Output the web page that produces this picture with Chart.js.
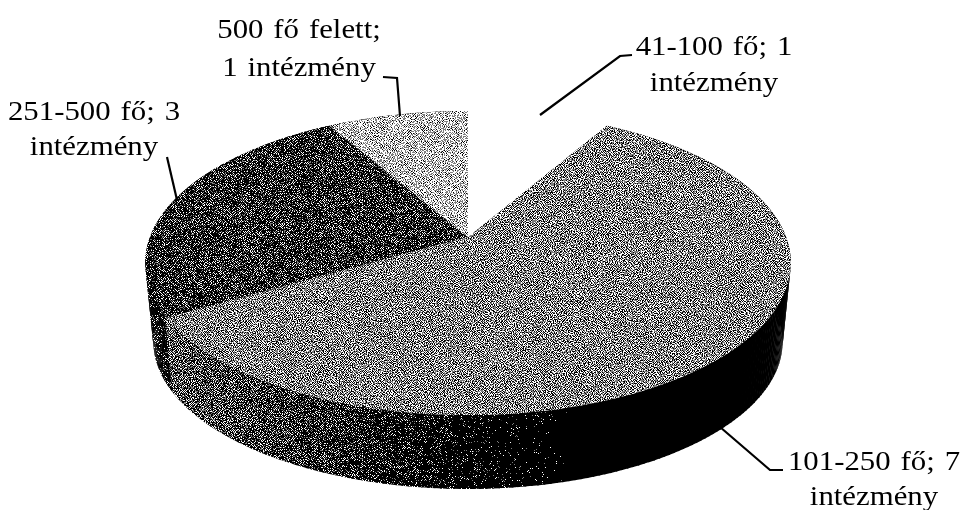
<!DOCTYPE html>
<html>
<head>
<meta charset="utf-8">
<style>
  html, body { margin: 0; padding: 0; background: #fff; }
  #wrap { width: 962px; height: 510px; }
</style>
<script src="https://cdn.jsdelivr.net/npm/chart.js@4"></script>
</head>
<body>
<div id="wrap"><canvas id="pie" width="962" height="510"></canvas></div>
<script>
// Chart data
const categories = ["41-100 fő", "101-250 fő", "251-500 fő", "500 fő felett"];
const counts = [1, 7, 3, 1];
const labelFirstLines = ["41-100 fő; 1", "101-250 fő; 7", "251-500 fő; 3", "500 fő felett;"];
const labelSecondLines = ["intézmény", "intézmény", "intézmény", "1 intézmény"];

// Darkness of each top face, 0 = white
const faceDarkness = [0, 0.48, 0.78, 0.28];

// Where the labels and their leader lines sit
const labelX = [714, 874, 94, 299];
const labelY = [[55, 91], [470, 505], [120, 155], [38, 76]];
const leaders = [
  [[632, 55], [620, 56], [540, 115]],
  [[783, 470], [770, 470], [720, 427]],
  [[167, 157], [177, 200]],
  [[383, 77], [397, 78], [400, 116]],
];

// Perspective of the pie: top plane and bottom plane
const topPlane = { dy: 0, a: 318, b: 147.6 };
const bottomPlane = { dy: 79.5, a: 310, b: 143 };
const tilt = 0.171;

// Darkness of the rim going clockwise from 12 o'clock (degrees)
const rimShade = [[30, 1], [163, 1], [176, 0.96], [190, 0.87], [205, 0.77], [222, 0.69], [240, 0.62], [241, 0.88], [300, 0.92]];

// Scan-like grain, same every run
function makeNoise(size) {
  let seed = 12345;
  const next = () => {
    seed = (seed + 0x6d2b79f5) | 0;
    let t = Math.imul(seed ^ (seed >>> 15), 1 | seed);
    t = (t + Math.imul(t ^ (t >>> 7), 61 | t)) ^ t;
    return ((t ^ (t >>> 14)) >>> 0) / 4294967296;
  };
  const raw = new Float32Array(size * size);
  for (let i = 0; i < raw.length; i++) raw[i] = next();
  const mixed = [];
  for (let y = 0; y < size; y++) {
    for (let x = 0; x < size; x++) {
      const at = (dx, dy) => raw[((y + dy + size) % size) * size + ((x + dx + size) % size)];
      // high-pass, so that it reads as a smooth grey from a distance
      const v = at(0, 0) - 0.25 * (at(1, 0) + at(-1, 0) + at(0, 1) + at(0, -1));
      mixed.push({ i: y * size + x, v });
    }
  }
  mixed.sort((p, q) => p.v - q.v);
  const rank = new Float32Array(size * size);
  mixed.forEach((m, r) => (rank[m.i] = r / mixed.length));
  return rank;
}

const noiseSize = 256;
const noise = makeNoise(noiseSize);
const patterns = new Map();

function grain(ctx, darkness) {
  const key = Math.round(darkness * 100);
  if (patterns.has(key)) return patterns.get(key);
  const c = document.createElement("canvas");
  c.width = c.height = noiseSize;
  const g = c.getContext("2d");
  const img = g.createImageData(noiseSize, noiseSize);
  const l = key / 100;
  // the grey band narrows towards full black and full white
  const band = 0.2 * Math.min(1, (1 - l) * 1.5, l * 3);
  for (let i = 0; i < noise.length; i++) {
    const n = noise[i];
    const shade = n < l - band ? 0 : n < l + band ? 125 : 255;
    img.data[i * 4] = img.data[i * 4 + 1] = img.data[i * 4 + 2] = shade;
    img.data[i * 4 + 3] = 255;
  }
  g.putImageData(img, 0, 0);
  const p = ctx.createPattern(c, "repeat");
  patterns.set(key, p);
  return p;
}

function project(arc, plane, angle) {
  const u = Math.cos(angle);
  const v = -Math.sin(angle);
  const w = 1 + tilt * v;
  return [arc.x + (plane.a * u) / w, arc.y + plane.dy - (plane.b * v) / w];
}

function rimDarkness(deg) {
  for (let i = 1; i < rimShade.length; i++) {
    if (deg <= rimShade[i][0]) {
      const [d0, s0] = rimShade[i - 1];
      const [d1, s1] = rimShade[i];
      return s0 + ((s1 - s0) * (deg - d0)) / (d1 - d0);
    }
  }
  return rimShade[rimShade.length - 1][1];
}

function drawRim(ctx, arc) {
  const step = Math.PI / 180;
  for (let a = arc.startAngle; a < arc.endAngle - 1e-6; a += step) {
    const b = Math.min(a + step * 1.3, arc.endAngle);
    const p = [project(arc, topPlane, a), project(arc, topPlane, b), project(arc, bottomPlane, b), project(arc, bottomPlane, a)];
    const deg = ((a + Math.PI / 2) * 180) / Math.PI;
    ctx.fillStyle = grain(ctx, rimDarkness(deg));
    ctx.beginPath();
    p.forEach(([x, y], i) => (i ? ctx.lineTo(x, y) : ctx.moveTo(x, y)));
    ctx.closePath();
    ctx.fill();
  }
}

function drawFace(ctx, arc, darkness) {
  ctx.beginPath();
  ctx.moveTo(arc.x, arc.y);
  const n = Math.ceil((arc.endAngle - arc.startAngle) * 60);
  for (let i = 0; i <= n; i++) {
    const [x, y] = project(arc, topPlane, arc.startAngle + ((arc.endAngle - arc.startAngle) * i) / n);
    ctx.lineTo(x, y);
  }
  ctx.closePath();
  ctx.fillStyle = darkness === 0 ? "#fff" : grain(ctx, darkness);
  ctx.fill();
}

function drawLabel(ctx, text, x, y) {
  ctx.save();
  ctx.translate(x, y);
  ctx.scale(1.1, 1);
  ctx.fillText(text, 0, 0);
  ctx.restore();
}

// Takes the angles Chart.js worked out and draws the slices tilted
const tiltedPie = {
  id: "tiltedPie",
  beforeDatasetDraw(chart) {
    const ctx = chart.ctx;
    const arcs = chart.getDatasetMeta(0).data.map((el) =>
      el.getProps(["x", "y", "startAngle", "endAngle"], true)
    );
    ctx.save();
    arcs.slice(1).forEach((arc) => drawRim(ctx, arc));
    arcs.forEach((arc, i) => drawFace(ctx, arc, faceDarkness[i]));
    ctx.restore();
    return false;
  },
  afterDraw(chart) {
    const ctx = chart.ctx;
    ctx.save();
    ctx.strokeStyle = "#000";
    ctx.lineWidth = 2.2;
    leaders.forEach((pts) => {
      ctx.beginPath();
      pts.forEach(([x, y], i) => (i ? ctx.lineTo(x, y) : ctx.moveTo(x, y)));
      ctx.stroke();
    });
    ctx.fillStyle = "#000";
    ctx.font = '28px "Liberation Serif"';
    ctx.textAlign = "center";
    ctx.wordSpacing = "2px";
    categories.forEach((_, i) => {
      drawLabel(ctx, labelFirstLines[i], labelX[i], labelY[i][0]);
      drawLabel(ctx, labelSecondLines[i], labelX[i], labelY[i][1]);
    });
    ctx.restore();
  },
};

new Chart(document.getElementById("pie"), {
  type: "pie",
  data: {
    labels: categories,
    datasets: [{ data: counts, borderWidth: 0 }],
  },
  options: {
    responsive: false,
    animation: false,
    layout: { padding: { left: 231, right: 257, top: 0, bottom: 36 } },
    plugins: { legend: { display: false }, tooltip: { enabled: false } },
  },
  plugins: [tiltedPie],
});
</script>
</body>
</html>
